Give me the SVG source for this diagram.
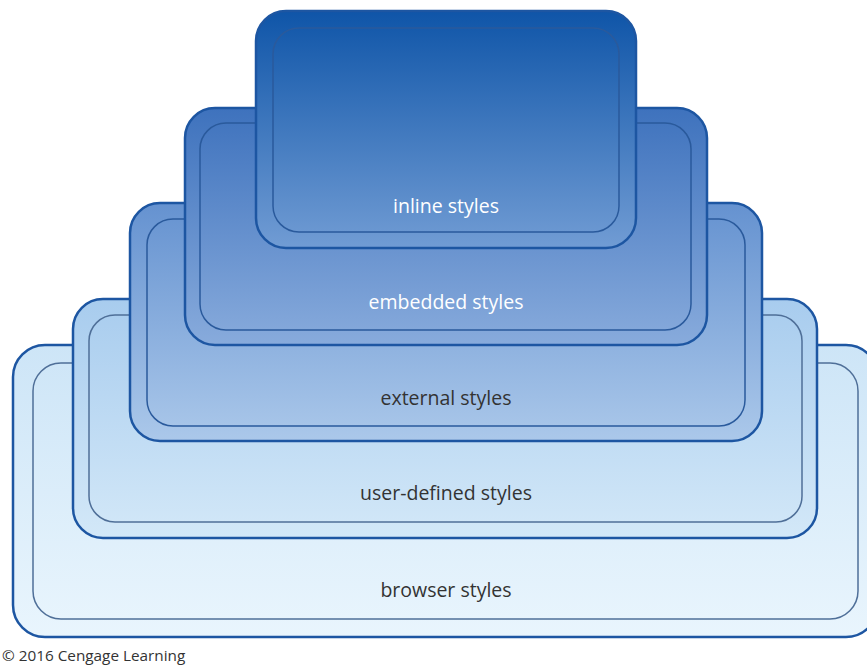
<svg xmlns="http://www.w3.org/2000/svg" width="867" height="666" viewBox="0 0 867 666">
<defs>
<linearGradient id="gBrowser" x1="0" y1="0" x2="0" y2="1"><stop offset="0" stop-color="#cde5f7"/><stop offset="1" stop-color="#e9f5fd"/></linearGradient>
<linearGradient id="gUser" x1="0" y1="0" x2="0" y2="1"><stop offset="0" stop-color="#a8ccee"/><stop offset="1" stop-color="#d3e8f8"/></linearGradient>
<linearGradient id="gExt" x1="0" y1="0" x2="0" y2="1"><stop offset="0" stop-color="#6592d0"/><stop offset="1" stop-color="#abc8ea"/></linearGradient>
<linearGradient id="gEmb" x1="0" y1="0" x2="0" y2="1"><stop offset="0" stop-color="#3e72bd"/><stop offset="1" stop-color="#88abdc"/></linearGradient>
<linearGradient id="gInl" x1="0" y1="0" x2="0" y2="1"><stop offset="0" stop-color="#0f55a8"/><stop offset="1" stop-color="#719cd4"/></linearGradient>
</defs>
<style>
.outer{stroke:#1d56a2;stroke-width:2.5}
.inner{fill:none;stroke-width:1.5}
.dk{stroke:#2a5a9c}
.lt{stroke:#4f6f98}
.lbl{font-family:"Open Sans","Liberation Sans",sans-serif;font-size:19.5px;text-anchor:middle}
.w{fill:#ffffff}
.d{fill:#333333}
</style>
<rect width="867" height="666" fill="#ffffff"/>
<g id="browser">
<rect class="outer" x="13" y="345" width="865" height="292" rx="32" fill="url(#gBrowser)"/>
<rect class="inner lt" x="33" y="363" width="825" height="256" rx="28"/>
<text class="lbl d" x="446" y="597">browser styles</text>
</g>
<g id="user-defined">
<rect class="outer" x="73" y="299" width="744" height="239" rx="30" fill="url(#gUser)"/>
<rect class="inner lt" x="89" y="315" width="713" height="207" rx="26"/>
<text class="lbl d" x="446" y="500">user-defined styles</text>
</g>
<g id="external">
<rect class="outer" x="130" y="203" width="632" height="238" rx="30" fill="url(#gExt)"/>
<rect class="inner dk" x="147" y="219" width="598" height="207" rx="26"/>
<text class="lbl d" x="446" y="405">external styles</text>
</g>
<g id="embedded">
<rect class="outer" x="185" y="108" width="522" height="237" rx="30" fill="url(#gEmb)"/>
<rect class="inner dk" x="200" y="123" width="491" height="207" rx="26"/>
<text class="lbl w" x="446" y="309">embedded styles</text>
</g>
<g id="inline">
<rect class="outer" x="256" y="11" width="380" height="237" rx="30" fill="url(#gInl)"/>
<rect class="inner dk" x="273" y="28" width="346" height="204" rx="26"/>
<text class="lbl w" x="446" y="213">inline styles</text>
</g>
<g id="connectors"></g>
<text x="2" y="661" font-family="'Open Sans','Liberation Sans',sans-serif" font-size="15.3" fill="#333333">© 2016 Cengage Learning</text>
</svg>
